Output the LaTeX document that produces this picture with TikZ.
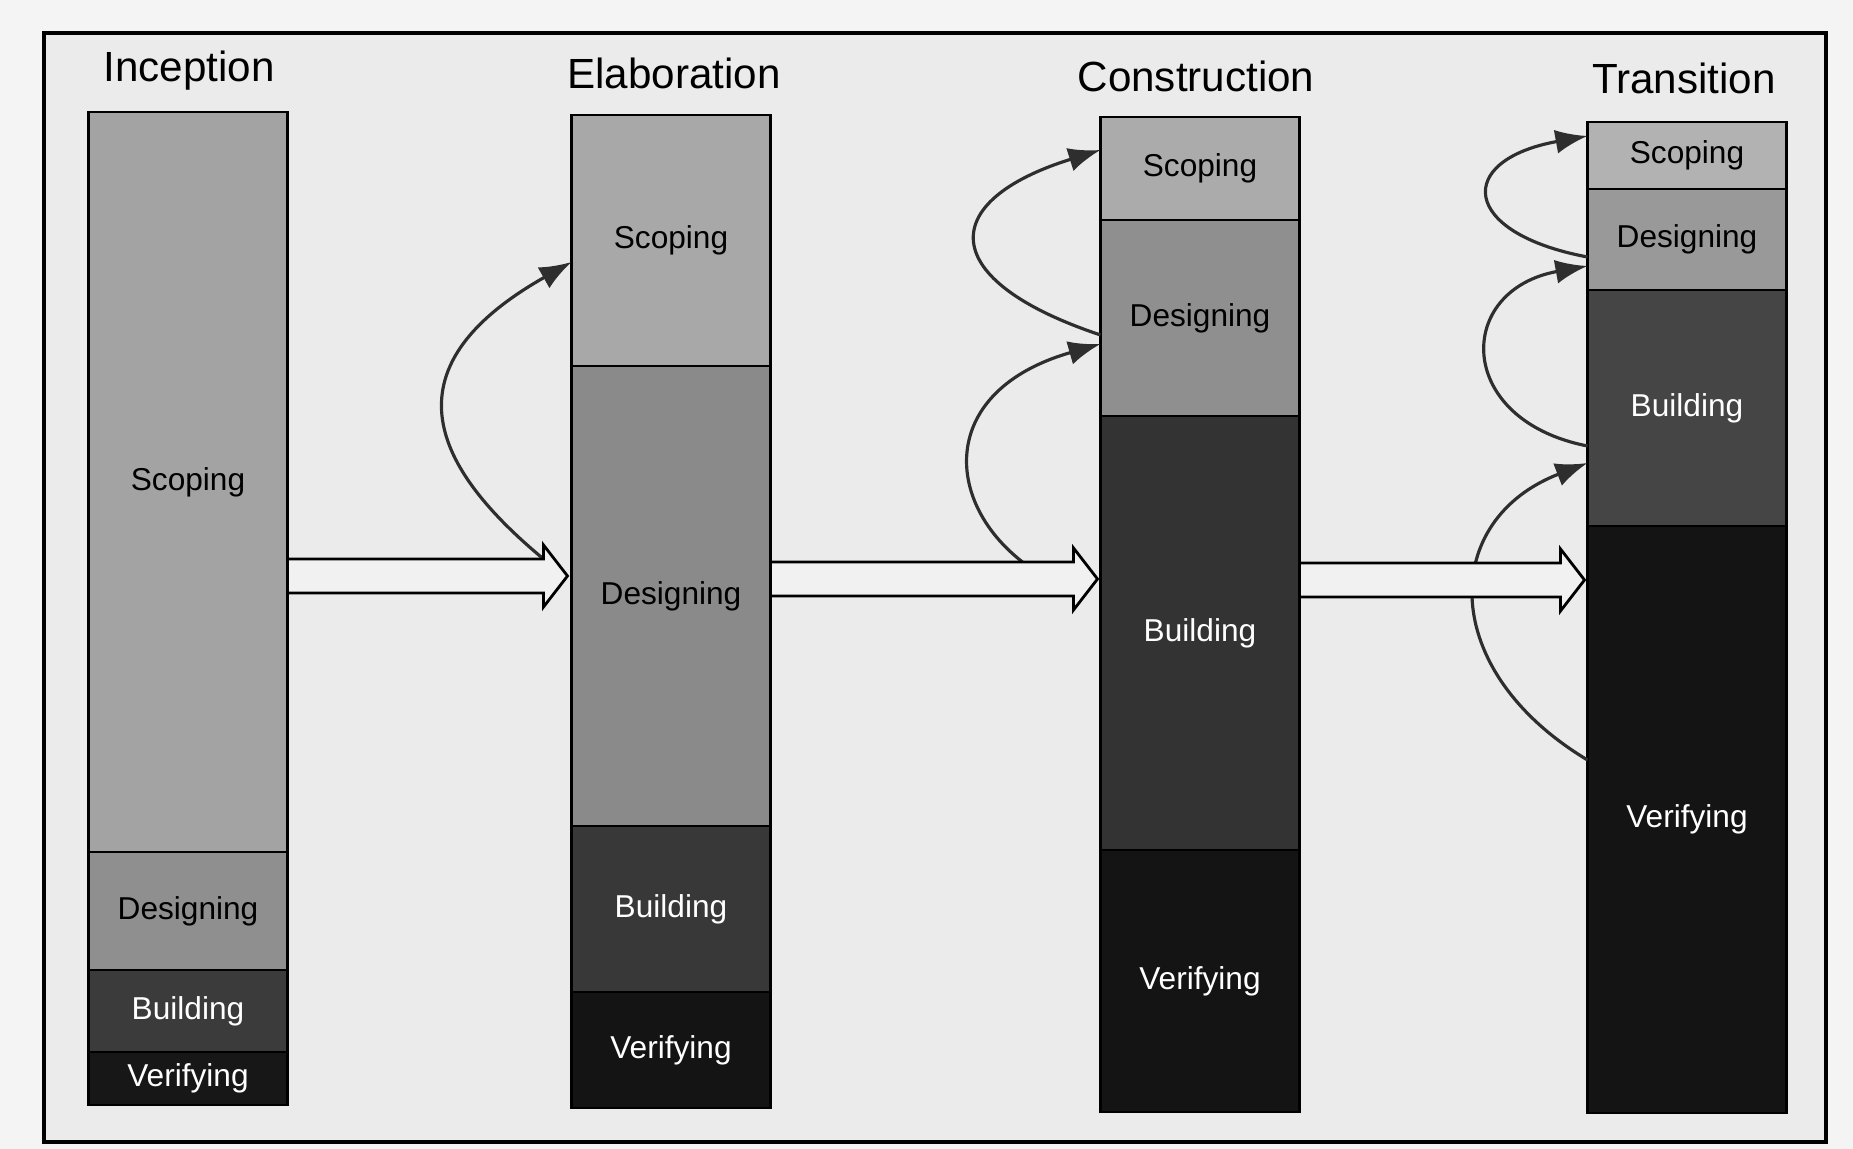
\documentclass[tikz,border=0pt]{standalone}
\usepackage{fontspec}
\setmainfont{Liberation Sans}
\usetikzlibrary{arrows.meta,positioning,calc}

\definecolor{paper}{HTML}{F4F4F4}
\definecolor{panel}{HTML}{EBEBEB}
\definecolor{arrowfill}{HTML}{F1F1F1}
\definecolor{curve}{HTML}{2E2E2E}

% hollow block arrow from #1 (shaft start) to #2 (tip)
\newcommand{\blockarrow}[2]{%
  \draw[blockarr] ($(#1)+(0,-17)$) -- ($(#2)+(-24,-17)$) -- ($(#2)+(-24,-31)$)
    -- (#2) -- ($(#2)+(-24,31)$) -- ($(#2)+(-24,17)$) -- ($(#1)+(0,17)$) -- cycle;}

\begin{document}
\begin{tikzpicture}[
    x=0.1mm, y=-0.1mm,
    >=Latex,
    phase/.style={font=\fontsize{12}{14}\selectfont},
    segbox/.style={draw=black, line width=0.8pt, minimum width=19.9mm,
        inner sep=0pt, outer sep=0pt, anchor=north, font=\fontsize{9}{11}\selectfont},
    darkbox/.style={segbox, text=white},
    blockarr/.style={draw=black, line width=0.8pt, fill=arrowfill, line join=miter},
    iterarrow/.style={draw=curve, line width=0.9pt, -{Latex[length=3.2mm,width=2.4mm]}},
]

% page and frame
\path[use as bounding box, fill=paper] (0,0) rectangle (1853,1149);
\draw[line width=1pt, fill=panel] (44,33) rectangle (1826,1142);

% phase titles
\node[phase] (tInc) at (189,71) {Inception};
\node[phase] (tEla) at (674,73) {Elaboration};
\node[phase] (tCon) at (1196,76) {Construction};
\node[phase] (tTra) at (1684,78) {Transition};

% Inception bar
\node[segbox, fill=black!36, minimum height=74mm] (incS) at (188,112) {Scoping};
\node[segbox, fill=black!44, minimum height=11.8mm, below=0pt of incS] (incD) {Designing};
\node[darkbox, fill=black!77, minimum height=8.2mm, below=0pt of incD] (incB) {Building};
\node[darkbox, fill=black!91, minimum height=5.3mm, below=0pt of incB] (incV) {Verifying};

% Elaboration bar
\node[segbox, fill=black!34, minimum height=25.1mm] (elaS) at (671,115) {Scoping};
\node[segbox, fill=black!46, minimum height=46mm, below=0pt of elaS] (elaD) {Designing};
\node[darkbox, fill=black!78, minimum height=16.6mm, below=0pt of elaD] (elaB) {Building};
\node[darkbox, fill=black!92, minimum height=11.6mm, below=0pt of elaB] (elaV) {Verifying};

% Construction bar
\node[segbox, fill=black!33, minimum height=10.3mm] (conS) at (1200,117) {Scoping};
\node[segbox, fill=black!44, minimum height=19.6mm, below=0pt of conS] (conD) {Designing};
\node[darkbox, fill=black!80, minimum height=43.4mm, below=0pt of conD] (conB) {Building};
\node[darkbox, fill=black!92, minimum height=26.2mm, below=0pt of conB] (conV) {Verifying};

% Transition bar
\node[segbox, fill=black!30, minimum height=6.7mm] (traS) at (1687,122) {Scoping};
\node[segbox, fill=black!40, minimum height=10.1mm, below=0pt of traS] (traD) {Designing};
\node[darkbox, fill=black!73, minimum height=23.6mm, below=0pt of traD] (traB) {Building};
\node[darkbox, fill=black!92, minimum height=58.7mm, below=0pt of traB] (traV) {Verifying};

% arrow ends
\coordinate (y1) at (0,576);
\coordinate (y2) at (0,579);
\coordinate (y3) at (0,580);
\coordinate (s1) at (incS.east |- y1);
\coordinate (t1) at ($(elaD.west |- y1)+(-4,0)$);
\coordinate (s2) at (elaD.east |- y2);
\coordinate (t2) at ($(conB.west |- y2)+(-3,0)$);
\coordinate (s3) at (conB.east |- y3);
\coordinate (t3) at ($(traV.west |- y3)+(-3,0)$);

% iteration loops
\draw[iterarrow] ($(t1)+(-24,-17)$) .. controls +(-107,-89) and +(-191,108) .. (elaS.west |- 0,262);
\draw[iterarrow] (conD.west |- 0,335) .. controls +(-165,-55) and +(-164,51) .. (conS.west |- 0,150);
\draw[iterarrow] ($(t2)+(-75,-17)$) .. controls +(-80,-62) and +(-161,46) .. (conD.west |- 0,344);
\draw[iterarrow] (traD.west |- 0,257) .. controls +(-128,-24) and +(-133,24) .. (traS.west |- 0,136);
\draw[iterarrow] (traB.west |- 0,446) .. controls +(-133,-26) and +(-133,24) .. (traD.west |- 0,266);
\draw[iterarrow] (traV.west |- 0,760) .. controls +(-150,-90) and +(-148,57) .. (traB.west |- 0,463);

% phase to phase
\blockarrow{s1}{t1}
\blockarrow{s2}{t2}
\blockarrow{s3}{t3}

\end{tikzpicture}
\end{document}
